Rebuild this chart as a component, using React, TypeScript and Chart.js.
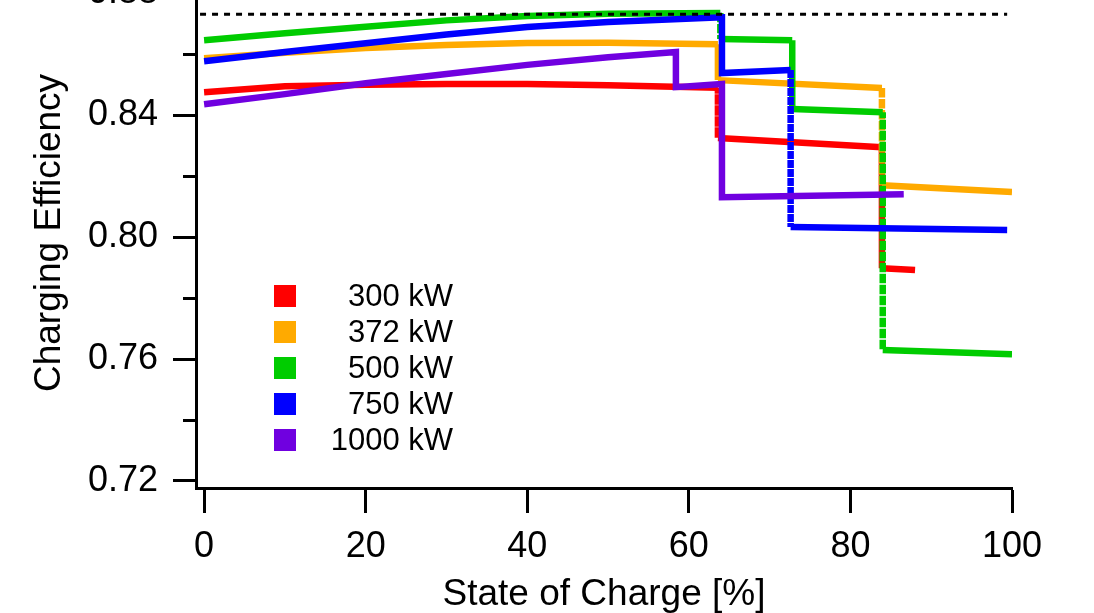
import React, { useEffect, useRef } from "react";
import { Chart, registerables } from "chart.js";

Chart.register(...registerables);

// ---- Data ----
const seriesLabels = ["300 kW", "372 kW", "500 kW", "750 kW", "1000 kW"];

const soc300 = [0, 10, 20, 30, 40, 50, 63.6, 63.6, 83.9, 83.9, 88];
const eff300 = [0.8475, 0.8495, 0.85, 0.8502, 0.8502, 0.8498, 0.849, 0.8325, 0.8295, 0.7898, 0.7892];

const soc372 = [0, 10, 20, 30, 40, 50, 63.6, 63.6, 83.9, 83.9, 100];
const eff372 = [0.8587, 0.8605, 0.862, 0.863, 0.8637, 0.8638, 0.8633, 0.8515, 0.8489, 0.817, 0.8148];

const soc500 = [0, 10, 20, 30, 40, 50, 63.9, 63.9, 72.8, 72.8, 84.0, 84.0, 100];
const eff500 = [0.8646, 0.8669, 0.869, 0.8711, 0.8725, 0.8733, 0.8735, 0.865, 0.8646, 0.842, 0.841, 0.763, 0.7616];

const soc750 = [0, 10, 20, 30, 40, 50, 64.1, 64.1, 72.6, 72.6, 99.4];
const eff750 = [0.8577, 0.8607, 0.8636, 0.8665, 0.8689, 0.8706, 0.8721, 0.8538, 0.8548, 0.8033, 0.8023];

const soc1000 = [0, 10, 20, 30, 40, 50, 58.4, 58.4, 64.1, 64.1, 86.6];
const eff1000 = [0.8436, 0.8469, 0.8505, 0.8535, 0.8565, 0.859, 0.8607, 0.8492, 0.8502, 0.8131, 0.8141];

const refSoc = [-0.5, 99.4];
const refEff = [0.8731, 0.8731];

// drops drawn dotted (x positions of vertical jumps)
const dottedDrops = [
  [63.6, 83.9],
  [63.6, 83.9],
  [63.9, 72.8, 84.0],
  [72.6],
  [] as number[],
];

const minorTicksY = [0.74, 0.78, 0.82, 0.86];

const seriesColors = ["#ff0000", "#ffaa00", "#00cc00", "#0000ff", "#7000e0"];

const allSoc = [soc300, soc372, soc500, soc750, soc1000];
const allEff = [eff300, eff372, eff500, eff750, eff1000];

const FONT = "'Liberation Sans', Arial, sans-serif";

export default function App() {
  const ref = useRef<HTMLCanvasElement | null>(null);

  useEffect(() => {
    if (!ref.current) return;

    const datasets: any[] = allSoc.map((xs, i) => ({
      label: seriesLabels[i],
      data: xs.map((x, k) => ({ x, y: allEff[i][k] })),
      borderColor: seriesColors[i],
      backgroundColor: seriesColors[i],
      borderWidth: 6.5,
      pointRadius: 0,
      tension: 0,
      fill: false,
      borderCapStyle: "butt",
      borderJoinStyle: "miter",
      order: 5 - i,
      segment: {
        borderDash: (ctx: any) => {
          const x0 = ctx.p0.parsed.x;
          const x1 = ctx.p1.parsed.x;
          if (x0 === x1 && dottedDrops[i].includes(x0)) {
            return i === 3 ? [6, 3] : [6, 5];
          }
          return undefined;
        },
      },
    }));

    datasets.push({
      label: "reference",
      data: refSoc.map((x, k) => ({ x, y: refEff[k] })),
      borderColor: "#000",
      borderWidth: 3,
      borderDash: [6, 6],
      pointRadius: 0,
      fill: false,
      order: 0,
    });

    const extras = {
      id: "extras",
      afterDraw(chart: any) {
        const { ctx, chartArea, scales } = chart;
        const y = scales.y;
        ctx.save();
        // minor ticks
        ctx.strokeStyle = "#000";
        ctx.lineWidth = 3;
        minorTicksY.forEach((v) => {
          const py = Math.round(y.getPixelForValue(v)) + 0.5;
          ctx.beginPath();
          ctx.moveTo(chartArea.left - 13, py);
          ctx.lineTo(chartArea.left, py);
          ctx.stroke();
        });
        // legend
        ctx.font = `31px ${FONT}`;
        ctx.textAlign = "right";
        ctx.textBaseline = "middle";
        seriesLabels.forEach((lab, i) => {
          const cy = 336 + i * 36;
          ctx.fillStyle = seriesColors[i];
          ctx.fillRect(274, cy - 11, 22, 22);
          ctx.fillStyle = "#000";
          ctx.fillText(lab, 453, cy + 1);
        });
        ctx.restore();
      },
    };

    const chart = new Chart(ref.current, {
      type: "line",
      data: { datasets },
      plugins: [extras],
      options: {
        animation: false,
        responsive: false,
        devicePixelRatio: 1,
        layout: { padding: { top: 18, right: 82, left: 0, bottom: 0 } },
        plugins: { legend: { display: false }, tooltip: { enabled: false } },
        scales: {
          x: {
            type: "linear",
            min: -1,
            max: 100,
            afterFit: (s: any) => {
              s.height = 125;
              s.paddingLeft = 0;
              s.paddingRight = 0;
            },
            ticks: {
              stepSize: 20,
              includeBounds: false,
              padding: 12,
              color: "#000",
              font: { family: FONT, size: 36 },
              maxRotation: 0,
            },
            grid: {
              drawOnChartArea: false,
              drawTicks: true,
              tickLength: 25,
              tickWidth: 3,
              tickColor: "#000",
            },
            border: { display: true, color: "#000", width: 3 },
            title: {
              display: true,
              text: "State of Charge [%]",
              color: "#000",
              font: { family: FONT, size: 37, lineHeight: 1 },
              padding: { top: 0, bottom: 0 },
            },
          },
          y: {
            type: "linear",
            min: 0.7177,
            max: 0.885,
            afterFit: (s: any) => {
              s.width = 196;
              s.paddingTop = 0;
              s.paddingBottom = 0;
            },
            ticks: {
              stepSize: 0.04,
              includeBounds: false,
              padding: 15,
              color: "#000",
              font: { family: FONT, size: 36 },
              callback: (v: any) => Number(v).toFixed(2),
            },
            grid: {
              drawOnChartArea: false,
              drawTicks: true,
              tickLength: 23,
              tickWidth: 3,
              tickColor: "#000",
            },
            border: { display: true, color: "#000", width: 3 },
            title: {
              display: true,
              text: "Charging Efficiency",
              color: "#000",
              font: { family: FONT, size: 37, lineHeight: 1.2 },
              padding: { top: 28, bottom: 0 },
            },
          },
        },
      } as any,
    });

    return () => chart.destroy();
  }, []);

  return (
    <div style={{ position: "fixed", left: 0, top: -40, width: 1094, height: 653 }}>
      <canvas ref={ref} width={1094} height={653} style={{ display: "block" }} />
    </div>
  );
}
